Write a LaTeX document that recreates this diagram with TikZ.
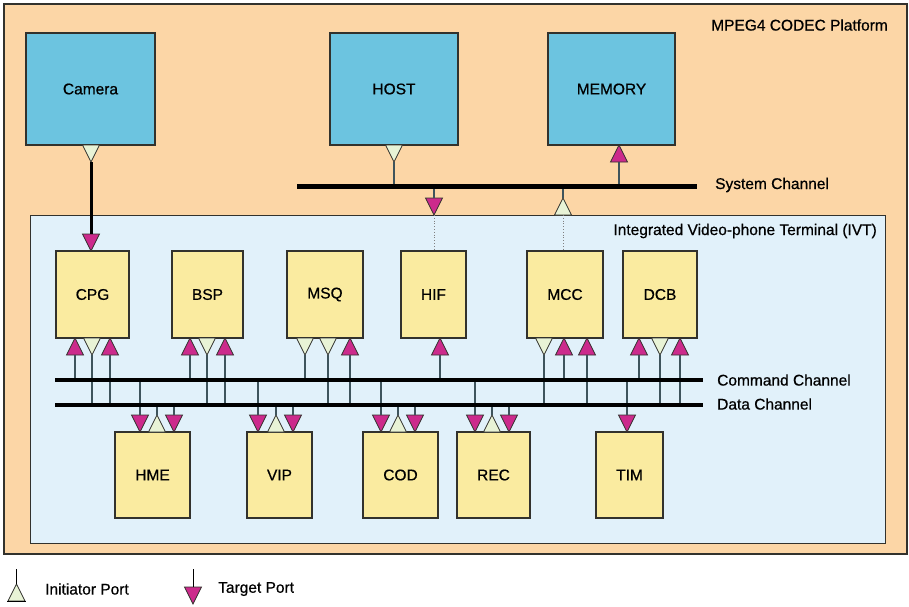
\documentclass[tikz,border=0pt]{standalone}
\usepackage{fontspec}
\setmainfont{Liberation Sans}[FakeBold=0.6]
\definecolor{orangebg}{RGB}{252,214,166}
\definecolor{ivtbg}{RGB}{225,241,250}
\definecolor{bluebox}{RGB}{108,196,224}
\definecolor{yelbox}{RGB}{250,235,160}
\definecolor{tgtcol}{RGB}{204,42,140}
\definecolor{inicol}{RGB}{232,243,214}
\definecolor{conncol}{RGB}{62,84,92}
\definecolor{edgecol}{RGB}{50,50,45}
\tikzset{
  txt/.style={font=\fontsize{15.5}{18}\selectfont, inner sep=0pt},
  bbox/.style={draw=edgecol, line width=1.2pt, fill=bluebox, minimum height=112, inner sep=0pt, font=\fontsize{15.5}{18}\selectfont},
  ybox/.style={draw=edgecol, line width=1.1pt, fill=yelbox, inner sep=0pt, font=\fontsize{15.5}{18}\selectfont},
  conn/.style={draw=conncol, line width=1.4pt},
  chan/.style={draw=black, line width=4.5pt},
  tri/.style={draw=edgecol, line width=0.8pt, line join=miter},
  tu/.pic={\path[tri, fill=tgtcol] (0,0) -- (-8.5,17) -- (8.5,17) -- cycle;
           \coordinate (-tip) at (0,0); \coordinate (-end) at (0,17);},
  id/.pic={\path[tri, fill=inicol] (-8.5,0) -- (8.5,0) -- (0,17) -- cycle;
           \coordinate (-tip) at (0,0); \coordinate (-end) at (0,17);},
  td/.pic={\path[tri, fill=tgtcol] (0,0) -- (-8.5,-17) -- (8.5,-17) -- cycle;
           \coordinate (-tip) at (0,0); \coordinate (-end) at (0,-17);},
  iu/.pic={\path[tri, fill=inicol] (-8.5,0) -- (8.5,0) -- (0,-17) -- cycle;
           \coordinate (-tip) at (0,0); \coordinate (-end) at (0,-17);},
}
\begin{document}
\begin{tikzpicture}[x=1pt,y=-1pt]
\useasboundingbox[fill=white] (0,0) rectangle (909,606);
% platform and IVT areas
\node[draw=edgecol, line width=1.5pt, fill=orangebg, minimum width=903, minimum height=550, anchor=north west, inner sep=0pt] (platform) at (3,3) {};
\node[txt, anchor=east] (platlbl) at (888,25) {MPEG4 CODEC Platform};
\node[draw=edgecol, line width=1.2pt, fill=ivtbg, minimum width=855, minimum height=328, anchor=north west, inner sep=0pt] (ivt) at (30,215) {};
\node[txt, anchor=east] (ivtlbl) at (877,231) {Integrated Video-phone Terminal (IVT)};
% top blue boxes
\node[bbox, minimum width=129] (camera) at (90.5,89) {Camera};
\node[bbox, minimum width=128] (host) at (394,89) {HOST};
\node[bbox, minimum width=127] (memory) at (611.5,89) {MEMORY};
% yellow blocks
\node[ybox, minimum width=73, minimum height=87] (cpg) at (92.5,294.5) {CPG};
\node[ybox, minimum width=71, minimum height=87] (bsp) at (207.5,294.5) {BSP};
\node[ybox, minimum width=76, minimum height=87] (msq) at (325,294.5) {MSQ};
\node[ybox, minimum width=65, minimum height=87] (hif) at (433.5,294.5) {HIF};
\node[ybox, minimum width=76, minimum height=87] (mcc) at (565,294.5) {MCC};
\node[ybox, minimum width=74, minimum height=87] (dcb) at (660,294.5) {DCB};
\node[ybox, minimum width=75, minimum height=86] (hme) at (152.5,475) {HME};
\node[ybox, minimum width=65, minimum height=86] (vip) at (279.5,475) {VIP};
\node[ybox, minimum width=75, minimum height=86] (cod) at (400.5,475) {COD};
\node[ybox, minimum width=73, minimum height=86] (rec) at (493.5,475) {REC};
\node[ybox, minimum width=67, minimum height=86] (tim) at (629.5,475) {TIM};
% channel coordinates
\coordinate (sysL) at (297,186); \coordinate (sysR) at (697,186);
\coordinate (cmd) at (55,380);   \coordinate (cmdR) at (703,380);
\coordinate (data) at (55,405);  \coordinate (dataR) at (703,405);
% system-level ports
\pic (cam) at (91,145) {id};
\pic (cpgin) at (91,251) {td};
\draw[black, line width=3pt] (cam-end) -- (cpgin-end);
\pic (hostp) at (394,145) {id};
\draw[conn] (hostp-end) -- (hostp-end |- sysL);
\pic (memp) at (619,145) {tu};
\draw[conn] (memp-end) -- (memp-end |- sysL);
\pic (hifs) at (434,215) {td};
\draw[conn] (hifs-end) -- (hifs-end |- sysL);
\draw[gray, dotted, line width=0.8pt] (hifs-tip) -- (hifs-tip |- hif.north);
\pic (mccs) at (563,215) {iu};
\draw[conn] (mccs-end) -- (mccs-end |- sysL);
\draw[gray, dotted, line width=0.8pt] (mccs-tip) -- (mccs-tip |- mcc.north);
\draw[chan, line width=5pt] (sysL) -- (sysR);
\node[txt, anchor=west] (syslbl) at (715,185) {System Channel};
% upper-row ports
\foreach \n/\x/\ch in {c1/75/cmd, c3/110/data, b1/190/cmd, b3/225/data, m3/350/data, h1/440/cmd, k2/564/cmd, k3/587/data, d1/639/cmd, d3/680/data}
  {\pic (\n) at (\x,338) {tu}; \draw[conn] (\n-end) -- (\n-end |- \ch);}
\foreach \n/\x/\ch in {c2/92/data, b2/207/data, m1/305/cmd, m2/328/data, k1/544/data, d2/660/data}
  {\pic (\n) at (\x,338) {id}; \draw[conn] (\n-end) -- (\n-end |- \ch);}
% lower-row ports
\foreach \n/\x/\ch in {e1/140/cmd, e3/174/data, v1/258/cmd, v3/293/data, o1/381/cmd, o3/415/data, r1/475/cmd, r3/509/data, t1/627/cmd}
  {\pic (\n) at (\x,432) {td}; \draw[conn] (\n-end) -- (\n-end |- \ch);}
\foreach \n/\x/\ch in {e2/157/data, v2/276/data, o2/398/data, r2/492/data}
  {\pic (\n) at (\x,432) {iu}; \draw[conn] (\n-end) -- (\n-end |- \ch);}
% channels
\draw[chan] (cmd) -- (cmdR);
\draw[chan] (data) -- (dataR);
\node[txt, anchor=west] (cmdlbl) at (717,380) {Command Channel};
\node[txt, anchor=west] (datalbl) at (717,404) {Data Channel};
% legend
\pic (legi) at (16.5,601) {iu};
\coordinate (legitop) at (16.5,569);
\draw[black, line width=1pt] (legi-end) -- (legitop);
\draw[black, line width=1.3pt] (7,601.5) -- (26,601.5);
\node[txt, anchor=west] (legilbl) at (45,589) {Initiator Port};
\pic (legt) at (193,604) {td};
\coordinate (legttop) at (193,569);
\draw[black, line width=1pt] (legt-end) -- (legttop);
\node[txt, anchor=west] (legtlbl) at (218,589) {Target Port};
\end{tikzpicture}
\end{document}
